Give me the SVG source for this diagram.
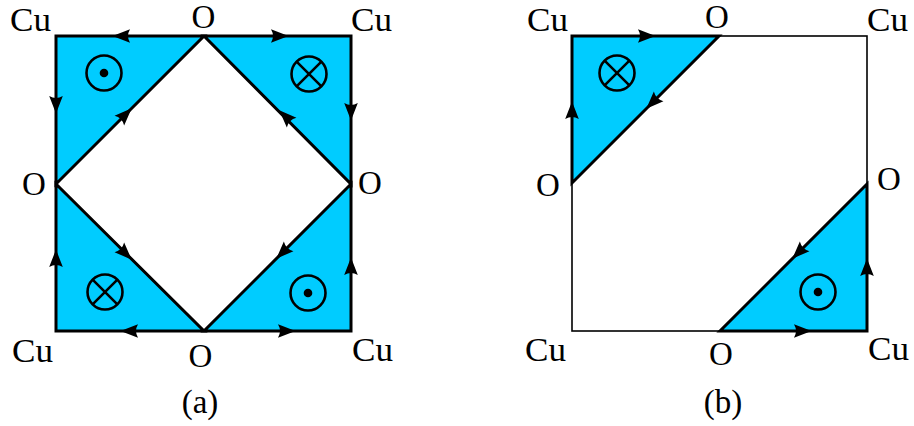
<svg xmlns="http://www.w3.org/2000/svg" xmlns:xlink="http://www.w3.org/1999/xlink" width="914" height="426" viewBox="0 0 914 426">
<style>
.tri{fill:#00CCFF;stroke:#000;stroke-width:3;stroke-linejoin:miter}
.thin{fill:none;stroke:#000;stroke-width:1.6}
.lbl{font-family:"Liberation Serif","Times New Roman",serif;font-size:33px;fill:#000}
.sym{fill:none;stroke:#000;stroke-width:2.6}
</style>
<defs>
<path id="ah" d="M9.5,0 L-8,-6.8 Q-4,0 -8,6.8 Z" fill="#000"/>
<g id="dot"><circle r="17.5" class="sym"/><circle r="4.3" fill="#000"/></g>
<g id="cross"><circle r="17.5" class="sym"/><path d="M-12.4,-12.4 L12.4,12.4 M-12.4,12.4 L12.4,-12.4" class="sym"/></g>
</defs>
<g id="panel-a">
<g id="a-tl"><path class="tri" d="M56,36 L204,36 L56,184 Z"/><use xlink:href="#dot" x="104" y="73"/></g>
<g id="a-tr"><path class="tri" d="M204,36 L351,36 L351,184 Z"/><use xlink:href="#cross" x="309" y="74"/></g>
<g id="a-bl"><path class="tri" d="M56,184 L204,331 L56,331 Z"/><use xlink:href="#cross" x="105" y="292"/></g>
<g id="a-br"><path class="tri" d="M351,184 L351,331 L204,331 Z"/><use xlink:href="#dot" x="308" y="293"/></g>
</g>
<g id="panel-b">
<rect class="thin" x="572" y="36" width="295" height="295"/>
<g id="b-tl"><path class="tri" d="M572,36 L719,36 L572,183 Z"/><use xlink:href="#cross" x="617" y="73"/></g>
<g id="b-br"><path class="tri" d="M867,184 L867,331 L720,331 Z"/><use xlink:href="#dot" x="818" y="292"/></g>
</g>
<g id="connectors">
<use xlink:href="#ah" transform="translate(122,36) rotate(180)"/>
<use xlink:href="#ah" transform="translate(56,104) rotate(90)"/>
<use xlink:href="#ah" transform="translate(125,115) rotate(-45)"/>
<use xlink:href="#ah" transform="translate(279,36)"/>
<use xlink:href="#ah" transform="translate(351,111) rotate(90)"/>
<use xlink:href="#ah" transform="translate(286,117) rotate(-135)"/>
<use xlink:href="#ah" transform="translate(56,259) rotate(-90)"/>
<use xlink:href="#ah" transform="translate(125,253) rotate(45)"/>
<use xlink:href="#ah" transform="translate(130,331) rotate(180)"/>
<use xlink:href="#ah" transform="translate(283,252) rotate(135)"/>
<use xlink:href="#ah" transform="translate(351,267) rotate(-90)"/>
<use xlink:href="#ah" transform="translate(286,331)"/>
<use xlink:href="#ah" transform="translate(646,36)"/>
<use xlink:href="#ah" transform="translate(572,111) rotate(-90)"/>
<use xlink:href="#ah" transform="translate(653,102) rotate(135)"/>
<use xlink:href="#ah" transform="translate(799,252) rotate(135)"/>
<use xlink:href="#ah" transform="translate(867,268) rotate(-90)"/>
<use xlink:href="#ah" transform="translate(802,331)"/>
</g>
<g id="labels" class="lbl">
<text x="10" y="31" textLength="41" lengthAdjust="spacingAndGlyphs">Cu</text>
<text x="203.5" y="28" text-anchor="middle">O</text>
<text x="351" y="31" textLength="41" lengthAdjust="spacingAndGlyphs">Cu</text>
<text x="34" y="195" text-anchor="middle">O</text>
<text x="370" y="194" text-anchor="middle">O</text>
<text x="12" y="362" textLength="41" lengthAdjust="spacingAndGlyphs">Cu</text>
<text x="200.5" y="367" text-anchor="middle">O</text>
<text x="352" y="361" textLength="41" lengthAdjust="spacingAndGlyphs">Cu</text>
<text x="200" y="413" text-anchor="middle">(a)</text>
<text x="527" y="31" textLength="41" lengthAdjust="spacingAndGlyphs">Cu</text>
<text x="717" y="28" text-anchor="middle">O</text>
<text x="867" y="31" textLength="41" lengthAdjust="spacingAndGlyphs">Cu</text>
<text x="548" y="196" text-anchor="middle">O</text>
<text x="889" y="190" text-anchor="middle">O</text>
<text x="525" y="361" textLength="41" lengthAdjust="spacingAndGlyphs">Cu</text>
<text x="721" y="365" text-anchor="middle">O</text>
<text x="868" y="360" textLength="41" lengthAdjust="spacingAndGlyphs">Cu</text>
<text x="723" y="413" text-anchor="middle">(b)</text>
</g>
</svg>
